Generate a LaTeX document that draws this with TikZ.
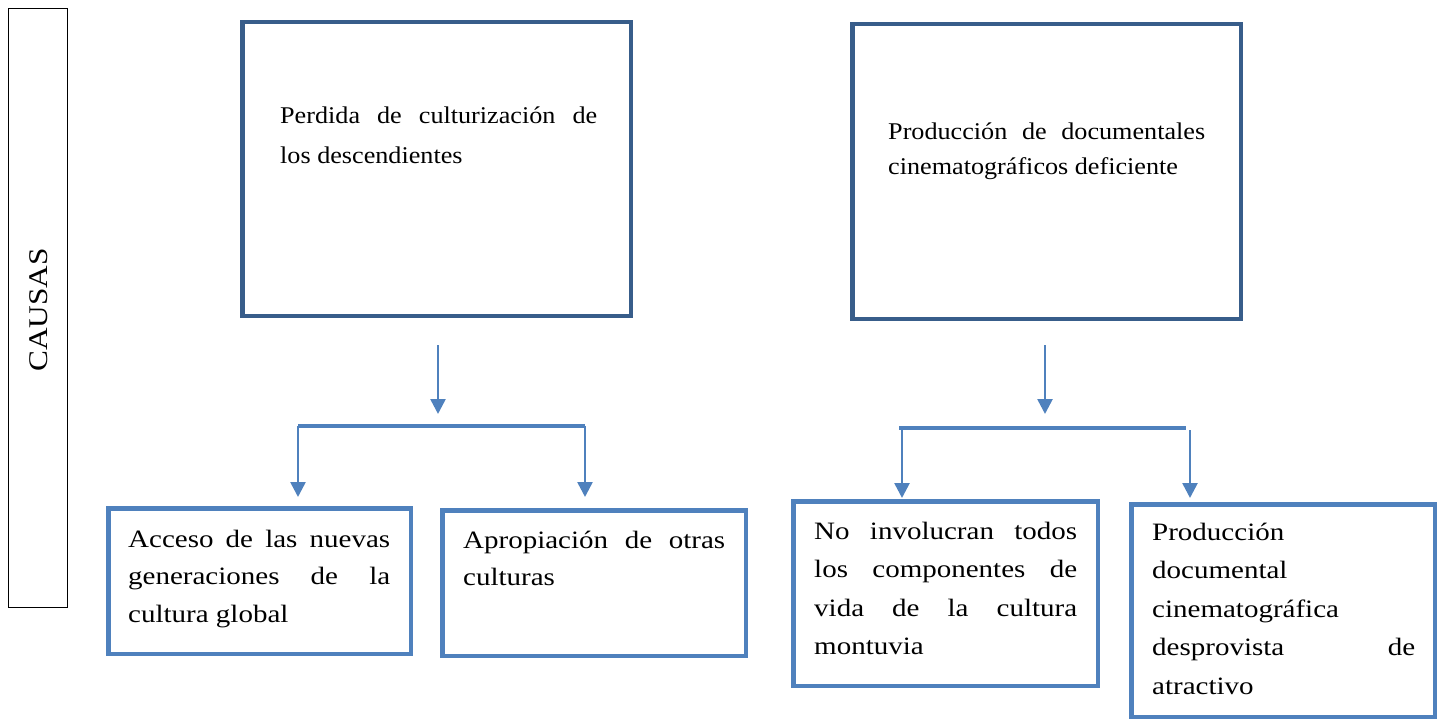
\documentclass[tikz,border=0pt]{standalone}
\usepackage{fontspec}
\setmainfont{Liberation Serif}
\newfontfamily\topfnt[FakeStretch=1.09]{Liberation Serif}
\newfontfamily\botfnt[FakeStretch=1.16]{Liberation Serif}
\newfontfamily\sidefnt[FakeStretch=1.16]{Liberation Serif}
\usetikzlibrary{arrows.meta}
\definecolor{darkbl}{RGB}{56,93,138}
\definecolor{midbl}{RGB}{79,129,189}
\newcommand{\jline}[2]{\makebox[#1][s]{\spaceskip=0pt\xspaceskip=0pt #2}}
\newcommand{\nsk}{\spaceskip=0pt\xspaceskip=0pt\relax}
\begin{document}
\begin{tikzpicture}[x=1pt,y=-1pt,
  topbox/.style={draw=darkbl, line width=4.5pt, rectangle, inner sep=0pt},
  botbox/.style={draw=midbl, line width=4.5pt, rectangle, inner sep=0pt},
  sidebox/.style={draw=black, line width=1.3pt, rectangle, inner sep=0pt},
  txtbase/.style={anchor=base west, inner sep=0pt, align=justify, text width=340pt},
  toptext/.style={txtbase, font=\topfnt\fontsize{24}{40}\selectfont},
  toptextb/.style={txtbase, font=\topfnt\fontsize{24}{35}\selectfont},
  bottext/.style={txtbase, font=\botfnt\fontsize{25}{37.5}\selectfont},
  bottextb/.style={txtbase, font=\botfnt\fontsize{25}{38.5}\selectfont},
  arr/.style={draw=midbl, line width=2.6pt, -{Triangle[width=15pt,length=15pt]}},
  bracket/.style={draw=midbl, line width=4.5pt}
]
\useasboundingbox (0,0) rectangle (1439,719);

% side box
\node[sidebox, minimum width=58.5pt, minimum height=598.5pt] (side) at (38,308) {};
\node[rotate=90, inner sep=0pt, font=\sidefnt\fontsize{27}{30}\selectfont] (sidetxt) at (39,310) {CAUSAS};

% top boxes
\node[topbox, minimum width=388.5pt, minimum height=293.5pt] (T1) at (436.5,169) {};
\node[topbox, minimum width=388.5pt, minimum height=294.5pt] (T2) at (1046.5,171.5) {};
\node[toptext] (T1txt) at (280,124) {\nsk\jline{317pt}{Perdida de culturización de}\\los descendientes};
\node[toptextb] (T2txt) at (888,140) {\nsk\jline{317pt}{Producción de documentales}\\cinematográficos deficiente};

% bottom boxes
\node[botbox, minimum width=302.5pt, minimum height=145.5pt] (B1) at (259.5,581) {};
\node[botbox, minimum width=303.5pt, minimum height=145.5pt] (B2) at (594,583) {};
\node[botbox, minimum width=304.5pt, minimum height=184.5pt] (B3) at (945.5,593.5) {};
\node[botbox, minimum width=303.5pt, minimum height=212.5pt] (B4) at (1283,610.5) {};

\node[bottext] (B1txt) at (128,547) {\nsk\jline{262pt}{Acceso de las nuevas}\\\jline{262pt}{generaciones de la}\\cultura global};
\node[bottext] (B2txt) at (463,548) {\nsk\jline{262pt}{Apropiación de otras}\\culturas};
\node[bottextb] (B3txt) at (814,539) {\nsk\jline{263pt}{No involucran todos}\\\jline{263pt}{los componentes de}\\\jline{263pt}{vida de la cultura}\\montuvia};
\node[bottextb] (B4txt) at (1152,540) {\nsk Producción\\documental\\cinematográfica\\\jline{263pt}{desprovista de}\\atractivo};

% left connectors
\coordinate (L0) at (438,345);
\coordinate (L1) at (438,414);
\coordinate (Lb1) at (298,426);
\coordinate (Lb2) at (585,426);
\coordinate (Ld1) at (298,497);
\coordinate (Ld2) at (585,497);
\draw[arr] (L0) -- (L1);
\draw[bracket] (Lb1) -- (Lb2);
\draw[arr] (Lb1) -- (Ld1);
\draw[arr] (Lb2) -- (Ld2);

% right connectors
\coordinate (R0) at (1045,345);
\coordinate (R1) at (1045,414);
\coordinate (Rb1) at (899,428);
\coordinate (Rb2) at (1186,428);
\coordinate (Rs1) at (902,428);
\coordinate (Rs2) at (1190,430);
\coordinate (Rd1) at (902,498);
\coordinate (Rd2) at (1190,498);
\draw[arr] (R0) -- (R1);
\draw[bracket] (Rb1) -- (Rb2);
\draw[arr] (Rs1) -- (Rd1);
\draw[arr] (Rs2) -- (Rd2);
\end{tikzpicture}
\end{document}
